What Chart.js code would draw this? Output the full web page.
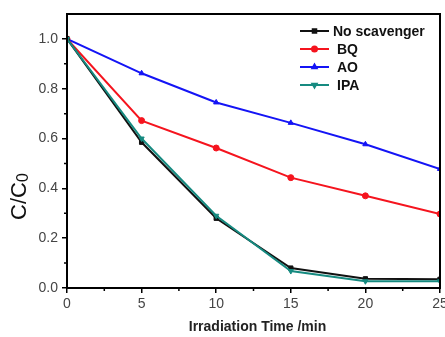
<!DOCTYPE html>
<html>
<head>
<meta charset="utf-8">
<script src="https://cdn.jsdelivr.net/npm/chart.js@4/dist/chart.umd.min.js"></script>
<style>
  body { margin: 0; background: #fff; }
  #wrap { width: 445px; height: 337px; }
</style>
</head>
<body>
<div id="wrap"><canvas id="chart" width="445" height="337"></canvas></div>
<script>
// values
const times = [0, 5, 10, 15, 20, 25];
const noScavenger = [1.0, 0.585, 0.28, 0.08, 0.037, 0.035];
const bq = [1.0, 0.672, 0.562, 0.443, 0.37, 0.297];
const ao = [1.0, 0.862, 0.745, 0.663, 0.577, 0.478];
const ipa = [1.0, 0.60, 0.29, 0.068, 0.027, 0.027];

const xTicks = [0, 5, 10, 15, 20, 25];
const yTicks = [0.0, 0.2, 0.4, 0.6, 0.8, 1.0];
const xMinor = [2.5, 7.5, 12.5, 17.5, 22.5];
const yMinor = [0.1, 0.3, 0.5, 0.7, 0.9];

const FONT = "Arial, 'Liberation Sans', sans-serif";

function toPoints(vals) {
  return vals.map((v, i) => ({x: times[i], y: v}));
}

// frame, minor ticks, axis titles and the legend
const decorPlugin = {
  id: "decor",
  afterDraw(chart) {
    let ctx = chart.ctx;
    let a = chart.chartArea;
    let xs = chart.scales.x, ys = chart.scales.y;
    ctx.save();
    ctx.strokeStyle = "#000";
    ctx.lineWidth = 2;
    ctx.strokeRect(a.left, a.top, a.right - a.left, a.bottom - a.top);

    ctx.lineWidth = 1.5;
    ctx.beginPath();
    xMinor.forEach(v => {
      let px = xs.getPixelForValue(v);
      ctx.moveTo(px, a.bottom);
      ctx.lineTo(px, a.bottom + 3);
    });
    yMinor.forEach(v => {
      let py = ys.getPixelForValue(v);
      ctx.moveTo(a.left, py);
      ctx.lineTo(a.left - 3, py);
    });
    ctx.stroke();

    // x title
    ctx.fillStyle = "#222";
    ctx.font = "bold 14px " + FONT;
    ctx.textAlign = "center";
    ctx.textBaseline = "middle";
    ctx.fillText("Irradiation Time /min", (a.left + a.right) / 2 + 4, 327);

    // y title
    ctx.save();
    ctx.translate(20, 190);
    ctx.rotate(-Math.PI / 2);
    ctx.font = "22px " + FONT;
    ctx.fillStyle = "#111";
    ctx.textAlign = "right";
    ctx.fillText("C/C", 8, 0);
    ctx.font = "16px " + FONT;
    ctx.textAlign = "left";
    ctx.fillText("0", 8, 4);
    ctx.restore();

    // legend
    let rows = [
      {label: "No scavenger", ds: chart.data.datasets[0], tx: 333},
      {label: "BQ", ds: chart.data.datasets[1], tx: 337},
      {label: "AO", ds: chart.data.datasets[2], tx: 337},
      {label: "IPA", ds: chart.data.datasets[3], tx: 337}
    ];
    ctx.font = "bold 14px " + FONT;
    ctx.textAlign = "left";
    rows.forEach((r, i) => {
      let y = 31 + i * 18;
      ctx.strokeStyle = r.ds.borderColor;
      ctx.lineWidth = 2;
      ctx.beginPath();
      ctx.moveTo(300, y);
      ctx.lineTo(329, y);
      ctx.stroke();
      Chart.helpers.drawPoint(ctx, {
        pointStyle: r.ds.pointStyle, rotation: r.ds.rotation || 0,
        radius: 2.5, borderWidth: 1
      }, 314.5, y);
      ctx.fillStyle = r.ds.borderColor;
      ctx.fill();
      ctx.fillStyle = "#111";
      ctx.fillText(r.label, r.tx, y + 1);
    });
    ctx.restore();
  }
};

function makeSet(label, vals, color, style, order, rotation) {
  return {
    label: label,
    data: toPoints(vals),
    borderColor: color,
    backgroundColor: color,
    pointBackgroundColor: color,
    pointBorderColor: color,
    pointStyle: style,
    rotation: rotation || 0,
    pointRotation: rotation || 0,
    pointRadius: 3,
    pointBorderWidth: 1,
    borderWidth: 2,
    order: order,
    tension: 0
  };
}

const context = document.getElementById("chart").getContext("2d");
new Chart(context, {
  type: "line",
  data: {
    datasets: [
      makeSet("No scavenger", noScavenger, "#111111", "rect", 1),
      makeSet("BQ", bq, "#f5141e", "circle", 2),
      makeSet("AO", ao, "#1414f5", "triangle", 3),
      makeSet("IPA", ipa, "#168a80", "triangle", 0, 180)
    ]
  },
  options: {
    responsive: false,
    animation: false,
    layout: {padding: {top: 14, right: 4, left: 0, bottom: 0}},
    plugins: {legend: {display: false}, tooltip: {enabled: false}},
    scales: {
      x: {
        type: "linear",
        min: 0,
        max: 25,
        afterBuildTicks: (s) => { s.ticks = xTicks.map(v => ({value: v})); },
        afterFit: (s) => { s.height = 49; s.paddingRight = 0; s.paddingLeft = 0; },
        grid: {drawOnChartArea: false, color: "#000", lineWidth: 1.5, tickLength: 5},
        border: {display: true, color: "#000", width: 2},
        ticks: {
          color: "#444",
          font: {family: FONT, size: 14},
          padding: 3,
          maxRotation: 0,
          autoSkip: false
        }
      },
      y: {
        min: 0,
        max: 1.1,
        afterBuildTicks: (s) => { s.ticks = yTicks.map(v => ({value: v})); },
        afterFit: (s) => { s.width = 67; },
        grid: {drawOnChartArea: false, color: "#000", lineWidth: 1.5, tickLength: 5},
        border: {display: true, color: "#000", width: 2},
        ticks: {
          color: "#444",
          font: {family: FONT, size: 14},
          padding: 4,
          autoSkip: false,
          callback: (v) => v.toFixed(1)
        }
      }
    }
  },
  plugins: [decorPlugin]
});
</script>
</body>
</html>
